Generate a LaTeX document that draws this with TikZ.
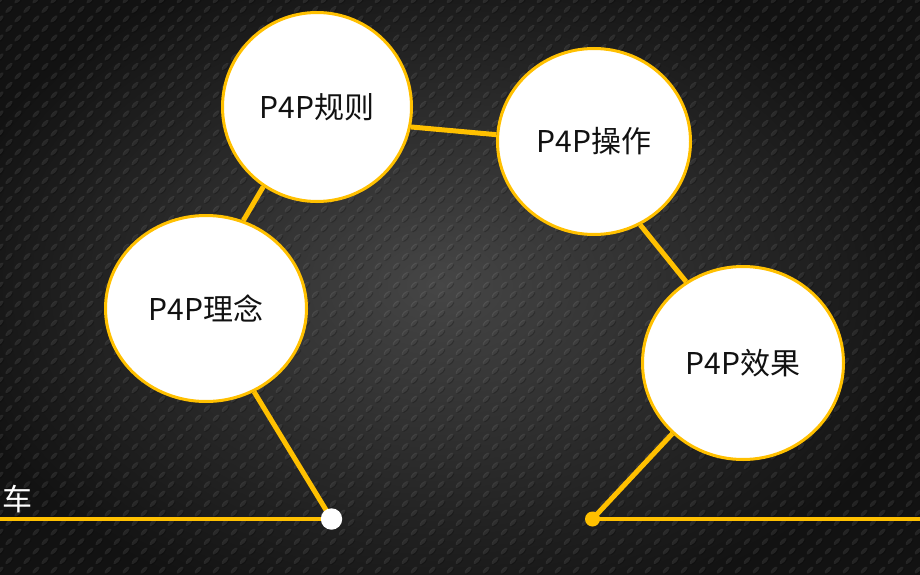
\documentclass[tikz,border=0pt]{standalone}
\usepackage{fontspec}
\newfontfamily\cjk{Noto Sans CJK SC}
\usetikzlibrary{shapes.geometric}
\pgfdeclarelayer{back}
\pgfdeclarelayer{links}
\pgfsetlayers{back,links,main}
\definecolor{gold}{HTML}{FFC000}
\definecolor{bgin}{HTML}{464646}
\definecolor{bgout}{HTML}{121212}
\definecolor{txt}{HTML}{111111}
\tikzset{
  bubble/.style={ellipse, draw=gold, line width=3pt, fill=white, inner sep=0pt,
    text=txt, font=\cjk\fontsize{30}{36}\selectfont},
  link/.style={draw=gold, line width=5pt},
  rail/.style={draw=gold, line width=4pt},
}
\begin{document}
\begin{tikzpicture}[x=1pt,y=-1pt]
\useasboundingbox (0,0) rectangle (920,575);
\begin{pgfonlayer}{back}
\shade[inner color=bgin, outer color=bgout] (-60,-60) rectangle (940,630);
\foreach \j in {0,...,61}{
  \pgfmathsetmacro{\off}{mod(\j,2)*9}
  \foreach \i in {0,...,51}{
    \fill[black, opacity=0.22, shift={(\i*18+\off+0.8, \j*9.5+0.9)}, rotate=45] (0,0) ellipse (4.6 and 1.9);
    \fill[white, opacity=0.09, shift={(\i*18+\off, \j*9.5)}, rotate=45] (0,0) ellipse (4.6 and 1.9);
  }
}
\end{pgfonlayer}
% nodes
\node[bubble, minimum width=189pt, minimum height=189pt] (rule) at (317,107) {P4P规则};
\node[bubble, minimum width=193pt, minimum height=186pt] (op) at (594,141.5) {P4P操作};
\node[bubble, minimum width=201pt, minimum height=186pt] (idea) at (206,308.5) {P4P理念};
\node[bubble, minimum width=201pt, minimum height=193pt] (eff) at (743,363) {P4P效果};
\node[text=white, font=\cjk\fontsize{30}{36}\selectfont, inner sep=0pt] (car) at (17,499) {车};
\coordinate (wd) at (331.5,519);
\coordinate (yd) at (592.5,519);
\coordinate (lft) at (0,519);
\coordinate (rgt) at (920,519);
\begin{pgfonlayer}{links}
\path[link] (rule.-12) -- (op.176);
\path[link] (rule.-124) -- (idea.67);
\path[link] (idea.-60) -- (wd);
\path[link] (op.-61) -- (eff.125);
\path[link] (eff.-135) -- (yd);
\path[rail] (lft) -- (wd);
\path[rail] (yd) -- (rgt);
\end{pgfonlayer}
\fill[white] (wd) circle (10.7);
\fill[gold] (yd) circle (7.5);
\end{tikzpicture}
\end{document}
